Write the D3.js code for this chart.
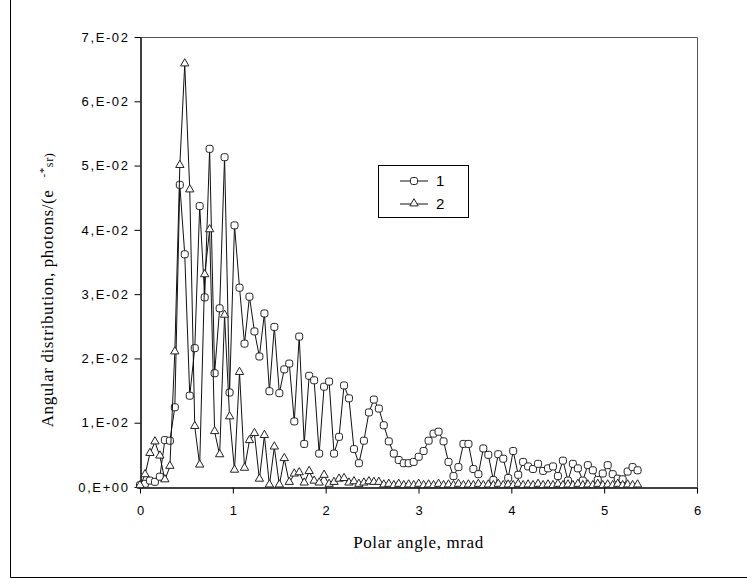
<!DOCTYPE html>
<meta charset="utf-8">
<script src="https://d3js.org/d3.v7.min.js"></script>
<style>
  body { margin: 0; background: #fff; }
  svg { display: block; }
</style>
<body>
<div id="chart"></div>
<script>

// polar angle, mrad (same grid for both curves)
var angles = [0, 0.054, 0.107, 0.161, 0.214, 0.268, 0.322, 0.375, 0.429, 0.482,
  0.536, 0.590, 0.643, 0.697, 0.750, 0.804, 0.858, 0.911, 0.965, 1.018,
  1.072, 1.126, 1.179, 1.233, 1.286, 1.340, 1.394, 1.447, 1.501, 1.554,
  1.608, 1.662, 1.715, 1.769, 1.822, 1.876, 1.930, 1.983, 2.037, 2.090,
  2.144, 2.198, 2.251, 2.305, 2.358, 2.412, 2.466, 2.519, 2.573, 2.626,
  2.680, 2.734, 2.787, 2.841, 2.894, 2.948, 3.002, 3.055, 3.109, 3.162,
  3.216, 3.270, 3.323, 3.377, 3.430, 3.484, 3.538, 3.591, 3.645, 3.698,
  3.752, 3.806, 3.859, 3.913, 3.966, 4.020, 4.074, 4.127, 4.181, 4.234,
  4.288, 4.342, 4.395, 4.449, 4.502, 4.556, 4.610, 4.663, 4.717, 4.770,
  4.824, 4.878, 4.931, 4.985, 5.038, 5.092, 5.146, 5.199, 5.253, 5.306,
  5.360];

// series 1 (circles)
var series1 = [0.0003, 0.0005, 0.0010, 0.0008, 0.0016, 0.0073, 0.0072, 0.0124, 0.0470, 0.0362,
  0.0142, 0.0216, 0.0437, 0.0295, 0.0526, 0.0177, 0.0278, 0.0513, 0.0147, 0.0407,
  0.0310, 0.0223, 0.0296, 0.0242, 0.0203, 0.0270, 0.0149, 0.0249, 0.0146, 0.0183,
  0.0192, 0.0102, 0.0234, 0.0067, 0.0173, 0.0166, 0.0052, 0.0156, 0.0164, 0.0052,
  0.0078, 0.0158, 0.0138, 0.0059, 0.0037, 0.0072, 0.0116, 0.0136, 0.0122, 0.0096,
  0.0071, 0.0052, 0.0042, 0.0037, 0.0037, 0.0039, 0.0047, 0.0056, 0.0072, 0.0083,
  0.0086, 0.0071, 0.0039, 0.0017, 0.0031, 0.0067, 0.0067, 0.0028, 0.0020, 0.0060,
  0.0050, 0.0011, 0.0051, 0.0044, 0.0014, 0.0056, 0.0019, 0.0039, 0.0032, 0.0028,
  0.0036, 0.0025, 0.0029, 0.0032, 0.0017, 0.0041, 0.0010, 0.0036, 0.0029, 0.0010,
  0.0034, 0.0026, 0.0011, 0.0021, 0.0034, 0.0020, 0.0013, 0.0012, 0.0024, 0.0031,
  0.0026];

// series 2 (triangles)
var series2 = [0.0002, 0.0019, 0.0052, 0.0070, 0.0048, 0.0011, 0.0032, 0.0210, 0.0500, 0.0658,
  0.0462, 0.0094, 0.0034, 0.0330, 0.0400, 0.0086, 0.0050, 0.0267, 0.0109, 0.0026,
  0.0178, 0.0029, 0.0072, 0.0083, 0.0012, 0.0080, 0.0003, 0.0062, 0.0003, 0.0044,
  0.0007, 0.0020, 0.0022, 0.0006, 0.0024, 0.0009, 0.0006, 0.0018, 0.0004, 0.0007,
  0.0012, 0.0013, 0.0006, 0.0008, 0.0004, 0.0006, 0.0008, 0.0007, 0.0007, 0.0003,
  0.0004, 0.0002, 0.0004, 0.0002, 0.0003, 0.0002, 0.0004, 0.0002, 0.0003, 0.0002,
  0.0004, 0.0002, 0.0003, 0.0002, 0.0004, 0.0002, 0.0003, 0.0002, 0.0004, 0.0002,
  0.0003, 0.0002, 0.0004, 0.0002, 0.0003, 0.0002, 0.0004, 0.0002, 0.0003, 0.0002,
  0.0004, 0.0002, 0.0003, 0.0002, 0.0004, 0.0002, 0.0003, 0.0002, 0.0004, 0.0002,
  0.0003, 0.0002, 0.0004, 0.0002, 0.0003, 0.0002, 0.0004, 0.0002, 0.0003, 0.0002,
  0.0003];

var yTicks = [0, 0.01, 0.02, 0.03, 0.04, 0.05, 0.06, 0.07];
var yTickLabels = ["0,E+00", "1,E-02", "2,E-02", "3,E-02", "4,E-02", "5,E-02", "6,E-02", "7,E-02"];
var xTicks = [0, 1, 2, 3, 4, 5, 6];
var seriesNames = ["1", "2"];

var W = 747, H = 579;
var plot = { left: 140, right: 697, top: 37, bottom: 487 };

var svg = d3.select("#chart")
  .append("svg")
  .attr("width", W)
  .attr("height", H);

svg.append("rect").attr("width", W).attr("height", H).attr("fill", "#fff");

// outer chart frame (only left and bottom edges visible)
svg.append("path")
  .attr("d", "M10.5,-2 V577.5 H750")
  .attr("fill", "none")
  .attr("stroke", "#000")
  .attr("stroke-width", 1);

var x = d3.scaleLinear().domain([0, 6]).range([plot.left, plot.right]);
var y = d3.scaleLinear().domain([0, 0.07]).range([plot.bottom, plot.top]);

// plot area border (top + right)
svg.append("path")
  .attr("d", "M" + (plot.left) + "," + (plot.top + 0.5) + " H" + (plot.right + 0.5) + " V" + plot.bottom)
  .attr("fill", "none")
  .attr("stroke", "#555")
  .attr("stroke-width", 1);

// Y axis
var yAxis = svg.append("g")
  .attr("transform", "translate(" + (plot.left + 0.5) + ",0)")
  .call(d3.axisLeft(y)
    .tickValues(yTicks)
    .tickFormat(function(d, i) { return yTickLabels[i]; })
    .tickSize(6)
    .tickPadding(5)
    .tickSizeOuter(0));
yAxis.selectAll("text")
  .style("font-family", "'Liberation Sans', Arial, sans-serif")
  .style("font-size", "13px")
  .style("letter-spacing", "1.6px")
  .attr("fill", "#000");

// X axis
var xAxis = svg.append("g")
  .attr("transform", "translate(0," + (plot.bottom + 0.5) + ")")
  .call(d3.axisBottom(x)
    .tickValues(xTicks)
    .tickFormat(d3.format("d"))
    .tickSize(6)
    .tickPadding(12)
    .tickSizeOuter(0));
xAxis.selectAll("text")
  .style("font-family", "'Liberation Sans', Arial, sans-serif")
  .style("font-size", "13px")
  .attr("fill", "#000");
svg.selectAll(".domain").attr("stroke", "#000").attr("stroke-width", 1.5);

// axis titles
svg.append("text")
  .attr("x", (plot.left + plot.right) / 2)
  .attr("y", 548)
  .attr("text-anchor", "middle")
  .style("font-family", "'Liberation Serif', 'Times New Roman', serif")
  .style("font-size", "17px")
  .style("letter-spacing", "0.6px")
  .text("Polar angle, mrad");

var yTitle = svg.append("text")
  .attr("transform", "translate(53,290) rotate(-90)")
  .attr("text-anchor", "middle")
  .style("font-family", "'Liberation Serif', 'Times New Roman', serif")
  .style("font-size", "17px")
  .style("letter-spacing", "0.6px");
yTitle.append("tspan").text("Angular distribution, photons/(e");
yTitle.append("tspan").attr("dx", 12).attr("dy", -6).style("font-size", "11px").text("-*");
yTitle.append("tspan").attr("dy", 6).style("font-size", "12px").text("sr)");

// data
var data1 = angles.map(function(a, i) { return { a: a, v: series1[i] }; });
var data2 = angles.map(function(a, i) { return { a: a, v: series2[i] }; });

var line = d3.line()
  .x(function(d) { return x(d.a); })
  .y(function(d) { return y(d.v); });

var triangle = d3.symbol().type(d3.symbolTriangle).size(30);

function drawSeries(data, kind) {
  svg.append("path")
    .datum(data)
    .attr("d", line)
    .attr("fill", "none")
    .attr("stroke", "#111")
    .attr("stroke-width", 1);

  if (kind == "circle") {
    svg.selectAll(".m1")
      .data(data)
      .enter()
      .append("rect")
      .attr("class", "m1")
      .attr("x", function(d) { return x(d.a) - 3.5; })
      .attr("y", function(d) { return y(d.v) - 3.5; })
      .attr("width", 7)
      .attr("height", 7)
      .attr("rx", 2.2)
      .attr("fill", "#fff")
      .attr("stroke", "#222")
      .attr("stroke-width", 1);
  } else {
    svg.selectAll(".m2")
      .data(data)
      .enter()
      .append("path")
      .attr("class", "m2")
      .attr("d", triangle)
      .attr("transform", function(d) { return "translate(" + x(d.a) + "," + (y(d.v) - 0.5) + ")"; })
      .attr("fill", "#fff")
      .attr("stroke", "#222")
      .attr("stroke-width", 1);
  }
}

drawSeries(data1, "circle");
drawSeries(data2, "triangle");

// legend
var legend = svg.append("g").attr("transform", "translate(378,165)");
legend.append("rect")
  .attr("x", 0.5).attr("y", 0.5)
  .attr("width", 90).attr("height", 52)
  .attr("fill", "#fff")
  .attr("stroke", "#000");

seriesNames.forEach(function(name, i) {
  var ly = 16 + i * 23;
  legend.append("line")
    .attr("x1", 22).attr("x2", 50)
    .attr("y1", ly).attr("y2", ly)
    .attr("stroke", "#111");
  if (i == 0) {
    legend.append("rect")
      .attr("x", 32.5).attr("y", ly - 3.5)
      .attr("width", 7).attr("height", 7).attr("rx", 2.2)
      .attr("fill", "#fff").attr("stroke", "#222");
  } else {
    legend.append("path")
      .attr("d", triangle)
      .attr("transform", "translate(36," + (ly - 0.5) + ")")
      .attr("fill", "#fff").attr("stroke", "#222");
  }
  legend.append("text")
    .attr("x", 58).attr("y", ly + 5)
    .style("font-family", "'Liberation Sans', Arial, sans-serif")
    .style("font-size", "15px")
    .text(name);
});

</script>
</body>
